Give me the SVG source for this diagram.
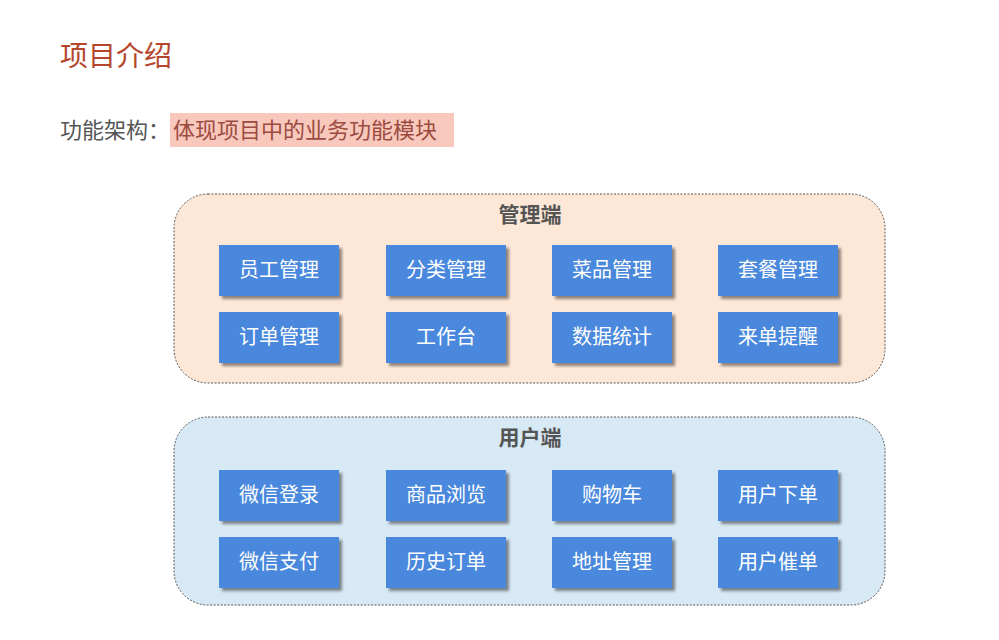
<svg xmlns="http://www.w3.org/2000/svg" width="999" height="640" viewBox="0 0 999 640">
<defs>
<filter id="sh" x="-10%" y="-10%" width="130%" height="140%">
<feGaussianBlur in="SourceAlpha" stdDeviation="1.5"/>
<feOffset dx="3" dy="3" result="b"/>
<feComponentTransfer><feFuncA type="linear" slope="0.45"/></feComponentTransfer>
<feMerge><feMergeNode/><feMergeNode in="SourceGraphic"/></feMerge>
</filter>
</defs>
<style>
text{font-family:"Noto Sans CJK SC","Noto Sans",sans-serif}
.box{fill:#4a88dc;filter:url(#sh)}
.bt{fill:#ffffff;font-size:20px;text-anchor:middle}
.ct{fill:#555555;font-size:21px;font-weight:bold;text-anchor:middle}
.cont{stroke:#555555;stroke-width:1;stroke-dasharray:2 1.5}
</style>
<rect width="999" height="640" fill="#ffffff"/>
<text x="60" y="66" font-size="28" fill="#b5462c">项目介绍</text>
<rect x="170" y="113" width="284" height="34" fill="#f9c8bd"/>
<text x="60" y="138" font-size="22" fill="#555555">功能架构：</text>
<text x="173" y="138" font-size="22" fill="#9c4b40">体现项目中的业务功能模块</text>

<g id="admin">
<rect class="cont" x="174" y="194" width="711" height="189" rx="34" fill="#fde8d8"/>
<text class="ct" x="530" y="222">管理端</text>
</g>
<g id="user">
<rect class="cont" x="174" y="417" width="711" height="188" rx="34" fill="#d7e9f5"/>
<text class="ct" x="530" y="445">用户端</text>
</g>

<g id="n1"><rect class="box" x="219" y="245" width="120" height="51"/><text class="bt" x="279" y="277">员工管理</text></g>
<g id="n2"><rect class="box" x="386" y="245" width="120" height="51"/><text class="bt" x="446" y="277">分类管理</text></g>
<g id="n3"><rect class="box" x="552" y="245" width="120" height="51"/><text class="bt" x="612" y="277">菜品管理</text></g>
<g id="n4"><rect class="box" x="718" y="245" width="120" height="51"/><text class="bt" x="778" y="277">套餐管理</text></g>
<g id="n5"><rect class="box" x="219" y="312" width="120" height="51"/><text class="bt" x="279" y="344">订单管理</text></g>
<g id="n6"><rect class="box" x="386" y="312" width="120" height="51"/><text class="bt" x="446" y="344">工作台</text></g>
<g id="n7"><rect class="box" x="552" y="312" width="120" height="51"/><text class="bt" x="612" y="344">数据统计</text></g>
<g id="n8"><rect class="box" x="718" y="312" width="120" height="51"/><text class="bt" x="778" y="344">来单提醒</text></g>

<g id="u1"><rect class="box" x="219" y="470" width="120" height="51"/><text class="bt" x="279" y="502">微信登录</text></g>
<g id="u2"><rect class="box" x="386" y="470" width="120" height="51"/><text class="bt" x="446" y="502">商品浏览</text></g>
<g id="u3"><rect class="box" x="552" y="470" width="120" height="51"/><text class="bt" x="612" y="502">购物车</text></g>
<g id="u4"><rect class="box" x="718" y="470" width="120" height="51"/><text class="bt" x="778" y="502">用户下单</text></g>
<g id="u5"><rect class="box" x="219" y="537" width="120" height="51"/><text class="bt" x="279" y="569">微信支付</text></g>
<g id="u6"><rect class="box" x="386" y="537" width="120" height="51"/><text class="bt" x="446" y="569">历史订单</text></g>
<g id="u7"><rect class="box" x="552" y="537" width="120" height="51"/><text class="bt" x="612" y="569">地址管理</text></g>
<g id="u8"><rect class="box" x="718" y="537" width="120" height="51"/><text class="bt" x="778" y="569">用户催单</text></g>

<g id="connectors"></g>
</svg>
